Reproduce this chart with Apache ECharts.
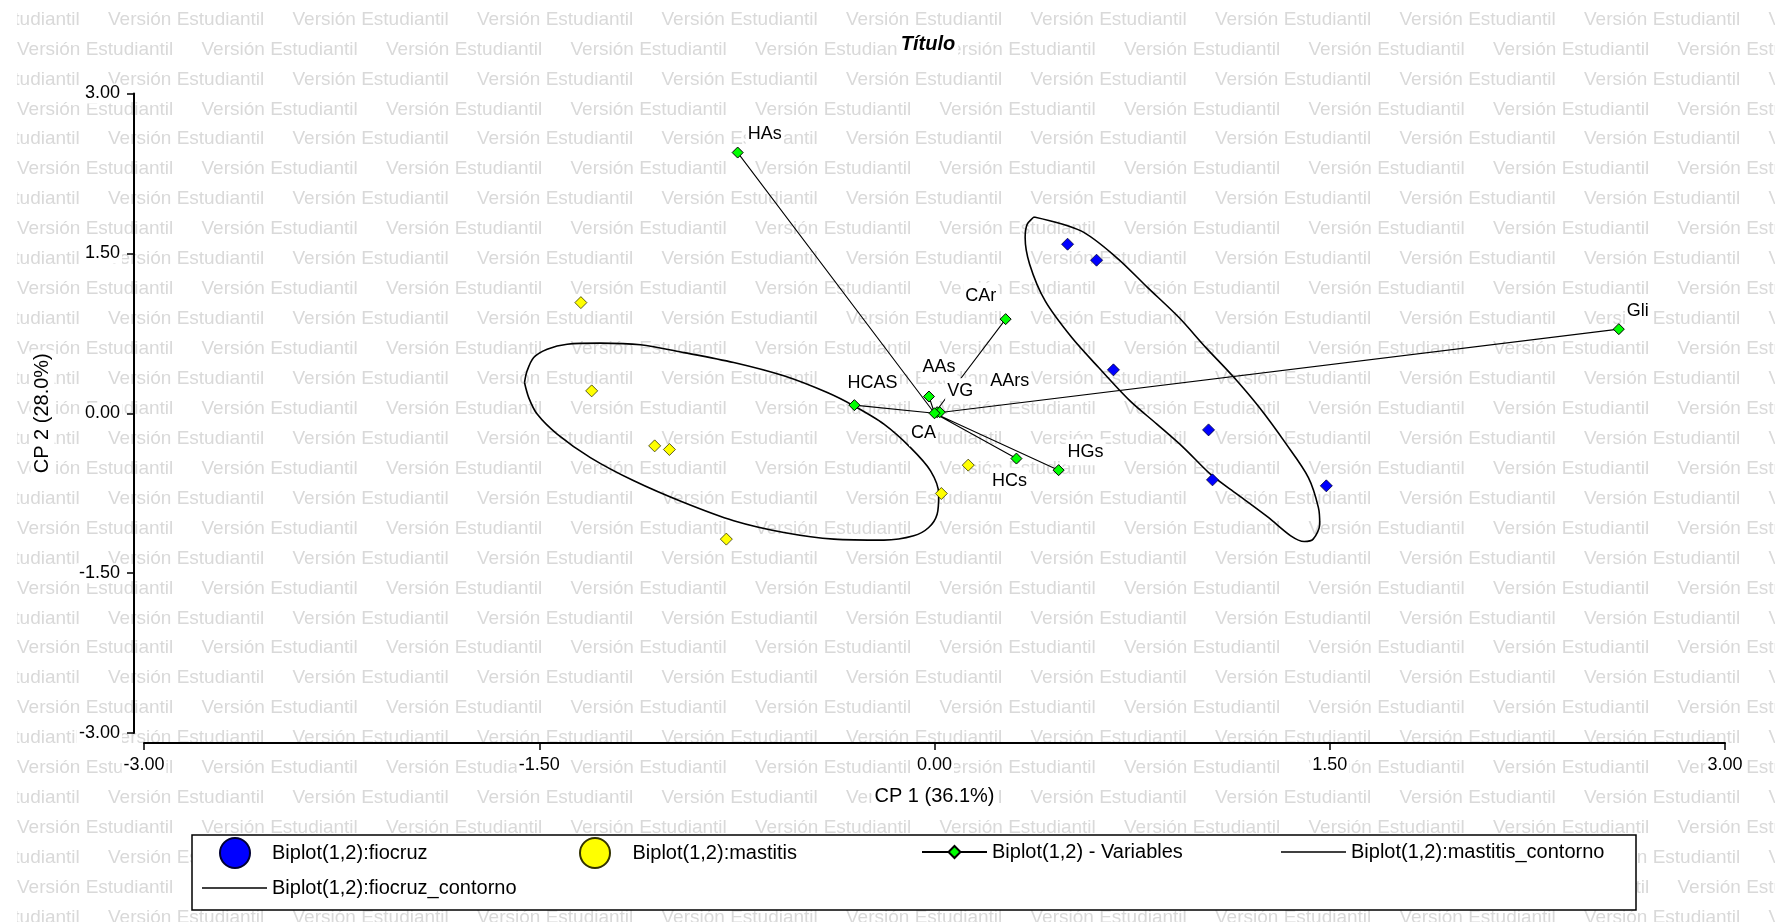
<!DOCTYPE html>
<html>
<head>
<meta charset="utf-8">
<script src="https://cdn.jsdelivr.net/npm/echarts@6/dist/echarts.min.js"></script>
<style>
  html, body { margin: 0; padding: 0; background: #fff; }
  #chart { width: 1775px; height: 922px; }
</style>
</head>
<body>
<div id="chart"></div>
<script>
// ---- Biplot data (CP 1 vs CP 2) ----
// Observation scores, group "fiocruz"
const fiocruzX = [0.505, 0.615, 0.679, 1.040, 1.055, 1.487];
const fiocruzY = [1.586, 1.436, 0.407, -0.156, -0.625, -0.681];

// Observation scores, group "mastitis"
const mastitisX = [-1.342, -1.301, -1.062, -1.006, -0.790, 0.026, 0.128];
const mastitisY = [1.038, 0.210, -0.306, -0.340, -1.181, -0.753, -0.487];

// Variable loadings (vectors drawn from the origin)
const varNames = ['HAs', 'CAr', 'AAs', 'VG', 'AArs', 'HCAS', 'CA', 'HCs', 'HGs', 'Gli'];
const varX = [-0.747, 0.270, -0.021, 0.010, 0.020, -0.304, 0.000, 0.311, 0.471, 2.597];
const varY = [2.446, 0.883, 0.157, 0.010, 0.010, 0.076, 0.000, -0.425, -0.534, 0.789];
const origin = [0, 0];

// Group contours (closed outlines)
const mastitisContourX = [-1.556, -1.546, -1.521, -1.470, -1.394, -1.268, -1.116, -0.951, -0.762, -0.572,
  -0.407, -0.306, -0.192, -0.091, -0.015, 0.016, 0.010, -0.022, -0.079, -0.192,
  -0.382, -0.572, -0.762, -0.951, -1.141, -1.306, -1.432, -1.508, -1.540, -1.556];
const mastitisContourY = [0.288, 0.398, 0.523, 0.601, 0.648, 0.658, 0.642, 0.569, 0.476, 0.351,
  0.194, 0.069, -0.102, -0.322, -0.540, -0.759, -0.947, -1.072, -1.150, -1.190,
  -1.181, -1.119, -1.009, -0.838, -0.634, -0.416, -0.196, -0.008, 0.147, 0.288];

const fiocruzContourX = [0.378, 0.556, 0.691, 0.809, 0.928, 1.030, 1.131, 1.233, 1.335, 1.419,
  1.457, 1.462, 1.437, 1.403, 1.352, 1.267, 1.148, 1.047, 0.945, 0.844,
  0.742, 0.623, 0.521, 0.420, 0.361, 0.344, 0.352, 0.378];
const fiocruzContourY = [1.842, 1.711, 1.461, 1.179, 0.898, 0.616, 0.351, 0.053, -0.290, -0.603,
  -0.885, -1.041, -1.181, -1.203, -1.150, -0.978, -0.759, -0.571, -0.322, -0.102,
  0.116, 0.429, 0.710, 1.054, 1.399, 1.648, 1.774, 1.842];

// Axis scale
const axisMin = -3;
const axisMax = 3;
const axisStep = 1.5;

// Text
const titleText = 'Título';
const xAxisName = 'CP 1 (36.1%)';
const yAxisName = 'CP 2 (28.0%)';
const watermarkText = 'Versión Estudiantil';
const seriesNames = {
  fiocruz: 'Biplot(1,2):fiocruz',
  mastitis: 'Biplot(1,2):mastitis',
  vars: 'Biplot(1,2) - Variables',
  mastitisContour: 'Biplot(1,2):mastitis_contorno',
  fiocruzContour: 'Biplot(1,2):fiocruz_contorno'
};

// ---- Styling ----
const FONT = "'Liberation Sans', Arial, sans-serif";
// placement of each variable name, in px relative to its point
const varLabelOffset = {
  HAs: [27, -19], CAr: [-25, -23], AAs: [10, -29], VG: [23, -21], AArs: [70, -31],
  HCAS: [18, -22], CA: [-11, 20], HCs: [-7, 22], HGs: [27, -18], Gli: [19, -18]
};

const zip = (xs, ys) => xs.map((x, i) => [x, ys[i]]);

// vectors: origin -> variable -> origin -> next variable ...
const varData = [];
varNames.forEach((name, i) => {
  varData.push({ value: origin.slice(), symbol: 'none', label: { show: false } });
  varData.push({ name: name, value: [varX[i], varY[i]] });
});

// background watermark, one text element per repetition
const W = 1775, H = 922;
const wmRowStep = 29.94, wmColStep = 184.5, wmFirstRow = 19.5;
const watermark = [];
for (let r = 0; wmFirstRow + r * wmRowStep < H + 15; r++) {
  const y = wmFirstRow + r * wmRowStep;
  let x = (r % 2 === 0) ? 108 - wmColStep : 17;
  for (; x < W; x += wmColStep) {
    watermark.push({
      type: 'text', x: x, y: y, z: -20, silent: true,
      style: { text: watermarkText, font: '19px ' + FONT, fill: '#d9d9d9', verticalAlign: 'middle' }
    });
  }
}
// blank left margin of the page
watermark.push({ type: 'rect', z: -15, silent: true, shape: { x: 0, y: 0, width: 17, height: H }, style: { fill: '#fff' } });
// legend frame
watermark.push({
  type: 'rect', z: -10, silent: true,
  shape: { x: 192, y: 835, width: 1444, height: 75 },
  style: { fill: '#fff', stroke: '#000', lineWidth: 1.5 }
});

const axisCommon = {
  type: 'value',
  min: axisMin, max: axisMax, interval: axisStep,
  splitLine: { show: false },
  axisLine: { onZero: false, lineStyle: { color: '#000', width: 2 } },
  axisTick: { inside: false, length: 7, lineStyle: { color: '#000', width: 1.5 } },
  axisLabel: {
    formatter: v => v.toFixed(2),
    color: '#000', fontFamily: FONT, fontSize: 18,
    backgroundColor: '#fff', padding: [1, 2]
  },
  nameLocation: 'middle',
  nameTextStyle: { color: '#000', fontFamily: FONT, fontSize: 20, backgroundColor: '#fff', padding: [2, 3] }
};

const legendCommon = {
  orient: 'horizontal', padding: 0, selectedMode: false,
  textStyle: { color: '#000', fontFamily: FONT, fontSize: 20 }
};

const option = {
  backgroundColor: '#fff',
  animation: false,
  title: {
    text: titleText, left: 925, top: 33, textAlign: 'center',
    padding: [1, 3], backgroundColor: '#fff',
    textStyle: { color: '#000', fontFamily: FONT, fontSize: 20, fontWeight: 'bold', fontStyle: 'italic' }
  },
  graphic: { elements: watermark },
  grid: { left: 144, right: 50, top: 93.5, bottom: 189, containLabel: false },
  xAxis: Object.assign({}, axisCommon, {
    position: 'bottom', offset: 10, name: xAxisName, nameGap: 41.5,
    axisLabel: Object.assign({}, axisCommon.axisLabel, { margin: 12 })
  }),
  yAxis: Object.assign({}, axisCommon, {
    position: 'left', offset: 10, name: yAxisName, nameGap: 79.5, nameRotate: 90,
    axisLabel: Object.assign({}, axisCommon.axisLabel, { margin: 12 })
  }),
  legend: [
    Object.assign({}, legendCommon, {
      data: [{ name: seriesNames.fiocruz, icon: 'circle' }],
      left: 219, top: 837, itemWidth: 64, itemHeight: 30
    }),
    Object.assign({}, legendCommon, {
      data: [{ name: seriesNames.mastitis, icon: 'circle' }],
      left: 579, top: 837, itemWidth: 65, itemHeight: 30
    }),
    Object.assign({}, legendCommon, {
      data: [{ name: seriesNames.vars }],
      left: 921, top: 842, itemWidth: 65, itemHeight: 15
    }),
    Object.assign({}, legendCommon, {
      data: [{ name: seriesNames.mastitisContour, icon: 'rect' }],
      left: 1281, top: 842, itemWidth: 65, itemHeight: 1.5
    }),
    Object.assign({}, legendCommon, {
      data: [{ name: seriesNames.fiocruzContour, icon: 'rect' }],
      left: 202, top: 878, itemWidth: 65, itemHeight: 1.5
    })
  ],
  series: [
    {
      name: seriesNames.mastitisContour, type: 'line', z: 2,
      data: zip(mastitisContourX, mastitisContourY),
      symbol: 'none', smooth: 0.3,
      itemStyle: { color: '#000' },
      lineStyle: { color: '#000', width: 1.6 }
    },
    {
      name: seriesNames.fiocruzContour, type: 'line', z: 2,
      data: zip(fiocruzContourX, fiocruzContourY),
      symbol: 'none', smooth: 0.3,
      itemStyle: { color: '#000' },
      lineStyle: { color: '#000', width: 1.6 }
    },
    {
      name: seriesNames.vars, type: 'line', z: 3,
      data: varData,
      symbol: 'diamond', symbolSize: 11, showAllSymbol: true,
      itemStyle: { color: '#00ff00', borderColor: '#000', borderWidth: 1 },
      lineStyle: { color: '#000', width: 1.1 },
      label: {
        show: true, position: 'inside', formatter: '{b}',
        color: '#000', fontFamily: FONT, fontSize: 18,
        backgroundColor: '#fff', padding: [4, 2]
      },
      labelLayout: function (params) {
        const off = varLabelOffset[varData[params.dataIndex].name] || [0, 0];
        return { dx: off[0], dy: off[1], hideOverlap: false };
      }
    },
    {
      name: seriesNames.fiocruz, type: 'scatter', z: 4,
      data: zip(fiocruzX, fiocruzY),
      symbol: 'diamond', symbolSize: 12,
      itemStyle: { color: '#0000ff', opacity: 1, borderColor: '#000033', borderWidth: 0.8 }
    },
    {
      name: seriesNames.mastitis, type: 'scatter', z: 4,
      data: zip(mastitisX, mastitisY),
      symbol: 'diamond', symbolSize: 12,
      itemStyle: { color: '#ffff00', opacity: 1, borderColor: '#333300', borderWidth: 0.8 }
    }
  ]
};

const chart = echarts.init(document.getElementById('chart'), null, { renderer: 'canvas' });
chart.setOption(option);
</script>
</body>
</html>
